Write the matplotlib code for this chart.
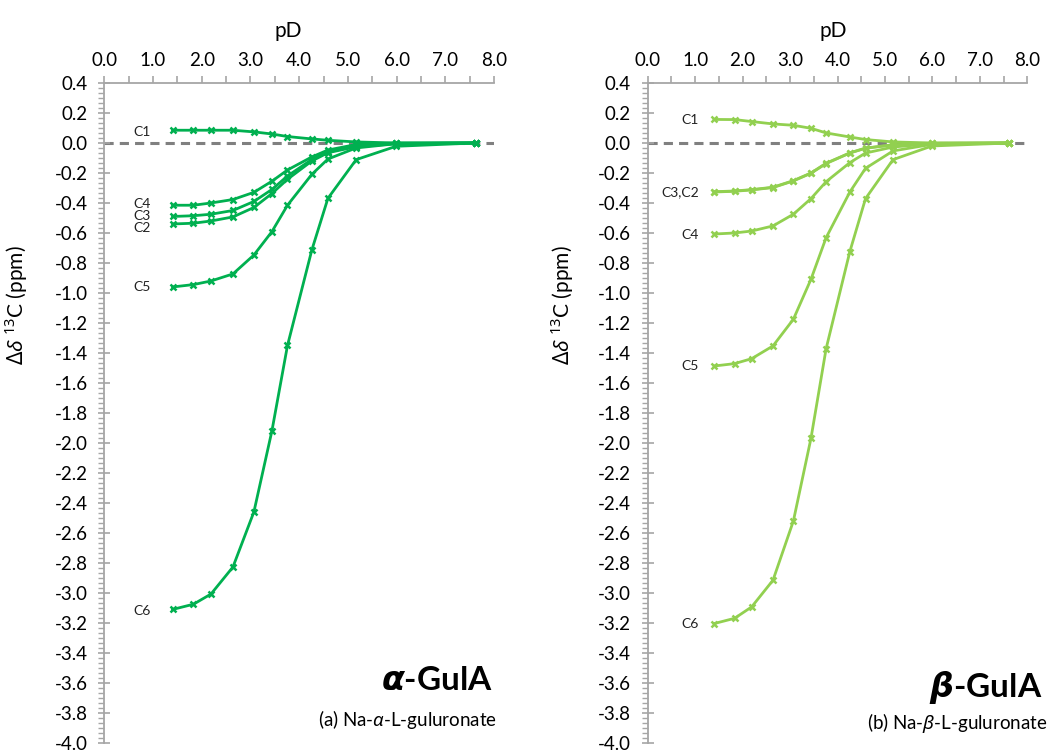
import numpy as np
import matplotlib
matplotlib.use('Agg')
import matplotlib.pyplot as plt
from matplotlib.ticker import MultipleLocator, FormatStrFormatter

plt.rcParams['font.family'] = ['Lato', 'DejaVu Sans']
plt.rcParams['axes.unicode_minus'] = False
plt.rcParams['mathtext.fontset'] = 'custom'
plt.rcParams['mathtext.rm'] = 'Noto Sans'
plt.rcParams['mathtext.it'] = 'Noto Sans:italic'
plt.rcParams['mathtext.bf'] = 'Noto Sans:bold'
plt.rcParams['mathtext.bfit'] = 'DejaVu Sans:italic:bold'

# pD titration points (same for both anomers)
pD = [1.40, 1.83, 2.19, 2.64, 3.07, 3.44, 3.76, 4.26, 4.59, 5.17, 5.99, 7.62]

# (a) Na-alpha-L-guluronate, delta 13C shifts (ppm)
alpha_C1 = [0.085, 0.085, 0.085, 0.085, 0.074, 0.060, 0.043, 0.027, 0.018, 0.007, 0.0, 0.0]
alpha_C2 = [-0.54, -0.535, -0.52, -0.493, -0.43, -0.337, -0.242, -0.12, -0.065, -0.025, -0.005, 0.0]
alpha_C3 = [-0.49, -0.485, -0.475, -0.45, -0.39, -0.31, -0.22, -0.11, -0.06, -0.02, -0.003, 0.0]
alpha_C4 = [-0.415, -0.415, -0.40, -0.377, -0.329, -0.255, -0.18, -0.093, -0.047, -0.01, 0.0, 0.0]
alpha_C5 = [-0.96, -0.944, -0.92, -0.873, -0.747, -0.591, -0.415, -0.209, -0.107, -0.033, -0.005, 0.0]
alpha_C6 = [-3.11, -3.075, -3.007, -2.827, -2.46, -1.92, -1.35, -0.713, -0.369, -0.111, -0.022, 0.0]

# (b) Na-beta-L-guluronate
beta_C1 = [0.157, 0.156, 0.143, 0.127, 0.118, 0.098, 0.067, 0.040, 0.023, 0.007, 0.0, 0.0]
beta_C2 = [-0.327, -0.322, -0.313, -0.297, -0.253, -0.202, -0.137, -0.067, -0.035, -0.013, -0.002, 0.0]
beta_C3 = [-0.325, -0.320, -0.311, -0.295, -0.251, -0.200, -0.135, -0.066, -0.034, -0.012, -0.002, 0.0]
beta_C4 = [-0.607, -0.60, -0.587, -0.553, -0.475, -0.371, -0.258, -0.131, -0.067, -0.027, -0.005, 0.0]
beta_C5 = [-1.487, -1.471, -1.438, -1.353, -1.175, -0.909, -0.631, -0.327, -0.169, -0.053, -0.009, 0.0]
beta_C6 = [-3.204, -3.169, -3.093, -2.915, -2.52, -1.97, -1.371, -0.724, -0.371, -0.111, -0.02, 0.0]

alpha_series = [alpha_C1, alpha_C2, alpha_C3, alpha_C4, alpha_C5, alpha_C6]
alpha_labels = ['C1', 'C2', 'C3', 'C4', 'C5', 'C6']
alpha_label_y = [0.076, -0.57, -0.487, -0.404, -0.957, -3.12]

beta_series = [beta_C1, beta_C3, beta_C2, beta_C4, beta_C5, beta_C6]
beta_labels = ['C1', '', 'C3,C2', 'C4', 'C5', 'C6']
beta_label_y = [0.15, 0, -0.33, -0.615, -1.49, -3.21]

axis_grey = '#a6a6a6'

fig = plt.figure(figsize=(10.57, 7.51), dpi=100)
ax1 = fig.add_axes([0.0987, 0.0107, 0.3687, 0.8788])
ax2 = fig.add_axes([0.6128, 0.0107, 0.3591, 0.8788])

panels = [
    (ax1, alpha_series, alpha_labels, alpha_label_y, '#00b050', 0.96,
     r'$\mathbfit{\alpha}$-GulA', r'(a) Na-$\alpha$-L-guluronate',
     (0.997, 0.080), (1.008, 0.026), 0.471, -0.19),
    (ax2, beta_series, beta_labels, beta_label_y, '#92d050', 1.08,
     r'$\mathbfit{\beta}$-GulA', r'(b) Na-$\beta$-L-guluronate',
     (1.041, 0.070), (1.053, 0.021), 0.49, -0.19),
]

for ax, series, labels, label_y, color, lab_x, title, sub, tpos, spos, pdx, ylx in panels:
    ax.axhline(0, color='#808080', lw=2.2, ls=(0, (3, 2)), zorder=1)
    for vals in series:
        ax.plot(pD, vals, color=color, lw=2.0, marker='x', ms=4.5, mew=1.8,
                zorder=2, clip_on=False)
    for lab, ly in zip(labels, label_y):
        if lab:
            ax.text(lab_x, ly, lab, ha='right', va='center', fontsize=10,
                    color='#222222')

    ax.set_xlim(0, 8)
    ax.set_ylim(-4.0, 0.4)
    ax.xaxis.tick_top()
    ax.xaxis.set_label_position('top')
    ax.xaxis.set_major_locator(MultipleLocator(1.0))
    ax.xaxis.set_minor_locator(MultipleLocator(0.5))
    ax.yaxis.set_major_locator(MultipleLocator(0.2))
    ax.yaxis.set_minor_locator(MultipleLocator(0.2 / 6))
    ax.xaxis.set_major_formatter(FormatStrFormatter('%.1f'))
    ax.yaxis.set_major_formatter(FormatStrFormatter('%.1f'))

    for side in ['right', 'bottom']:
        ax.spines[side].set_visible(False)
    for side in ['left', 'top']:
        ax.spines[side].set_color(axis_grey)
        ax.spines[side].set_linewidth(1.3)

    ax.tick_params(axis='x', which='both', direction='out', length=5,
                   width=1.2, color=axis_grey, labelsize=13.5, pad=5)
    ax.tick_params(axis='y', which='major', direction='inout', length=8,
                   width=1.2, color=axis_grey, labelsize=13.5, pad=8)
    ax.tick_params(axis='y', which='minor', direction='out', length=4,
                   width=1.0, color=axis_grey)

    ax.set_xlabel('pD', fontsize=15)
    ax.xaxis.set_label_coords(pdx, 1.07)
    ax.set_ylabel(r'$\Delta\delta$ $^{13}$C (ppm)', fontsize=15)
    ax.yaxis.set_label_coords(ylx, 0.664)

    ax.text(tpos[0], tpos[1], title, transform=ax.transAxes, ha='right',
            va='baseline', fontsize=24, fontweight='bold')
    ax.text(spos[0], spos[1], sub, transform=ax.transAxes, ha='right',
            va='baseline', fontsize=13.5)

fig.savefig('out.png', dpi=100)
